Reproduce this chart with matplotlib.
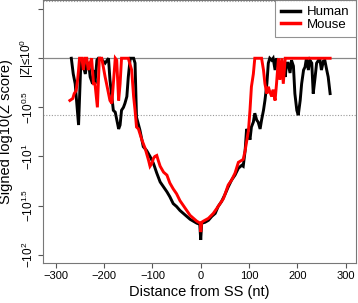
import matplotlib
matplotlib.use("Agg")
import matplotlib.pyplot as plt
import numpy as np

plt.rcParams['font.family'] = ['Liberation Sans', 'DejaVu Sans']
plt.rcParams['mathtext.fontset'] = 'custom'
plt.rcParams['mathtext.rm'] = 'Liberation Sans'
plt.rcParams['mathtext.it'] = 'Liberation Sans:italic'
plt.rcParams['mathtext.bf'] = 'Liberation Sans:bold'

# Human (black): distance (nt), signed log10 Z (0 = |Z|<=1)
human_x = [-268, -264, -260, -253, -248, -243, -239, -236, -232, -229, -224, -222, -219, -215,
           -212, -208, -198, -191, -188, -181, -177, -170, -167, -164, -160, -157, -153, -150,
           -146, -139, -136, -133, -126, -119, -112, -105, -98, -91, -84, -77, -70, -64, -57,
           -50, -43, -36, -29, -22, -15, -8, -2, 0, 2, 9, 16, 23, 30, 36, 43, 50, 57, 64, 71,
           78, 85, 88, 92, 95, 99, 102, 105, 109, 112, 116, 119, 123, 126, 130, 133, 137, 140,
           143, 147, 150, 154, 157, 161, 164, 168, 171, 175, 178, 181, 185, 188, 192, 195, 199,
           202, 206, 209, 213, 216, 219, 223, 226, 230, 233, 237, 240, 244, 247, 250, 254, 257,
           261, 264, 268]
human_y = [0, -0.16, -0.26, -0.68, 0, -0.08, -0.16, -0.05, -0.05, -0.19, -0.26, -0.12, -0.26, -0.02,
           0, 0, -0.05, 0, -0.22, -0.53, -0.55, -0.72, -0.68, -0.53, -0.50, -0.46, -0.39, -0.19,
           0, 0, -0.05, -0.60, -0.73, -0.90, -0.94, -1.00, -1.07, -1.17, -1.26, -1.31, -1.36, -1.41, -1.48,
           -1.51, -1.55, -1.58, -1.61, -1.64, -1.66, -1.68, -1.69, -1.85, -1.68, -1.67, -1.65, -1.61, -1.58, -1.51, -1.46, -1.39, -1.31, -1.24, -1.19,
           -1.12, -1.09, -1.10, -0.94, -0.72, -0.77, -0.83, -0.70, -0.65, -0.56, -0.63, -0.65, -0.72, -0.63, -0.53, -0.43, -0.26, -0.05,
           0, -0.02, 0, -0.12, 0, -0.09, -0.03, -0.20, -0.10, -0.19, -0.05, -0.05, -0.15, -0.02, -0.08, -0.36, -0.53,
           -0.58, -0.43, -0.26, -0.12, -0.09, 0, -0.12, -0.02, -0.05, -0.36, -0.19, -0.05, -0.02, -0.02, -0.12, -0.03, -0.02,
           -0.12, -0.19, -0.36]

# Mouse (red)
mouse_x = [-271, -265, -262, -258, -255, -253, -251, -246, -243, -240, -236, -233, -229, -226,
           -222, -219, -214, -210, -205, -198, -195, -188, -184, -181, -177, -174, -170, -167,
           -164, -150, -143, -139, -136, -133, -129, -122, -115, -108, -105, -101, -98, -95, -91,
           -88, -84, -77, -70, -64, -57, -50, -43, -36, -29, -22, -15, -8, -1, 0, 2, 5, 16, 26,
           36, 47, 57, 64, 71, 78, 88, 92, 99, 102, 105, 109, 112, 126, 130, 133, 137, 140, 143,
           147, 150, 154, 157, 161, 164, 168, 171, 175, 190, 205, 220, 240, 255, 268]
mouse_y = [-0.43, -0.41, -0.36, -0.33, -0.22, -0.12, 0, 0, -0.12, 0, 0, -0.12, -0.05, 0,
           -0.26, -0.26, -0.50, 0, 0, -0.19, -0.26, -0.43, -0.46, -0.26, 0, -0.02, -0.43, -0.26,
           0, 0, -0.12, -0.39, -0.53, -0.70, -0.72, -0.83, -0.92, -1.04, -1.10, -1.07, -1.02, -1.00, -0.99,
           -1.04, -1.10, -1.16, -1.19, -1.27, -1.33, -1.38, -1.45, -1.50, -1.55, -1.60, -1.63, -1.66, -1.68, -1.77, -1.67, -1.66, -1.63, -1.58,
           -1.51, -1.43, -1.29, -1.24, -1.17, -1.06, -1.03, -0.94, -0.73, -0.53, -0.29, -0.16, 0, 0, -0.12, -0.26, -0.36, -0.29, -0.34,
           -0.39, -0.32, -0.43, -0.26, 0, -0.22, 0, -0.26, 0, 0, 0, 0, 0, 0, 0]

xticks = [-300, -200, -100, 0, 100, 200, 300]
yticks = [0.5, 0, -0.5, -1, -1.5, -2]
ytick_labels = ['', r'|Z|≤$10^0$', r'$-10^{0.5}$', r'$-10^{1}$', r'$-10^{1.5}$', r'$-10^{2}$']
threshold = 0.58

fig = plt.figure(figsize=(3.58, 3.03), dpi=100)
ax = fig.add_axes([0.121, 0.132, 0.8726, 0.867])

ax.axhline(0, color='#888888', lw=0.9, zorder=1)
ax.axhline(threshold, color='#999999', lw=0.8, ls=(0, (1, 1.5)), zorder=1)
ax.axhline(-threshold, color='#999999', lw=0.8, ls=(0, (1, 1.5)), zorder=1)

ax.plot(human_x, human_y, color='black', lw=2.1, label='Human', zorder=3, solid_joinstyle='miter')
ax.plot(mouse_x, mouse_y, color='#ff0000', lw=2.1, label='Mouse', zorder=4, solid_joinstyle='miter')

ax.set_xlim(-326, 321)
ax.set_ylim(-2.085, 0.59)
ax.set_xticks(xticks)
ax.set_xticklabels([str(t).replace('-', '\u2212') for t in xticks], fontsize=8)
ax.set_yticks(yticks)
ax.set_yticklabels(ytick_labels, fontsize=8.5, rotation=90, va='center')

for s in ax.spines.values():
    s.set_color('#777777')
    s.set_linewidth(0.8)
ax.tick_params(colors='#555555', length=3.5, width=0.8, pad=2, labelcolor='black')

ax.set_xlabel('Distance from SS (nt)', fontsize=10.5, labelpad=3)
ax.set_ylabel('Signed log10(Z score)', fontsize=10.5, labelpad=3)

leg = ax.legend(loc='upper right', fontsize=9.5, frameon=True, fancybox=False,
                borderaxespad=0, handlelength=1.45, handletextpad=0.55,
                labelspacing=0.0, borderpad=0.45)
leg.get_frame().set_edgecolor('#777777')
leg.get_frame().set_linewidth(0.8)
for line in leg.get_lines():
    line.set_linewidth(2.5)

fig.savefig('out.png', dpi=100)
